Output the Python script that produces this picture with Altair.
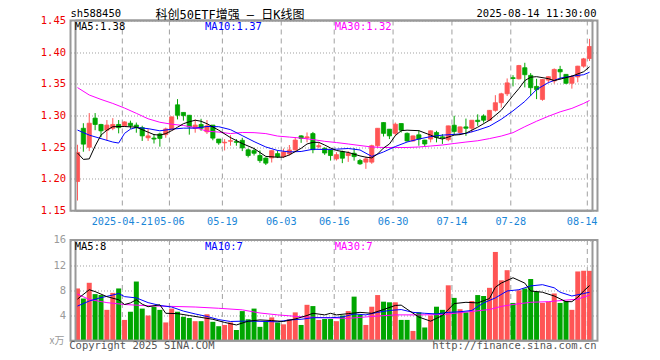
import altair as alt
import pandas as pd

# ---------------- data ----------------
opens = [1.196, 1.280, 1.250, 1.296, 1.286, 1.277, 1.280, 1.286, 1.284, 1.288,
         1.285, 1.281, 1.265, 1.2645, 1.271, 1.270, 1.2775, 1.317, 1.305, 1.3005,
         1.280, 1.286, 1.2744, 1.285, 1.263, 1.257, 1.2595, 1.259, 1.261, 1.246,
         1.2447, 1.237, 1.233, 1.2333, 1.240, 1.2355, 1.2395, 1.246, 1.268, 1.2648,
         1.2716, 1.251, 1.2484, 1.2458, 1.2317, 1.2431, 1.237, 1.2406, 1.2291, 1.2266,
         1.2266, 1.2525, 1.289, 1.2786, 1.272, 1.2875, 1.272, 1.260, 1.2697, 1.2614,
         1.263, 1.2734, 1.2665, 1.262, 1.2848, 1.2734, 1.2822, 1.280, 1.2927, 1.2994,
         1.2927, 1.3083, 1.3203, 1.3344, 1.3597, 1.358, 1.3755, 1.3635, 1.346, 1.3255,
         1.356, 1.3546, 1.3728, 1.365, 1.351, 1.361, 1.378, 1.390]
highs = [1.254, 1.288, 1.304, 1.304, 1.287, 1.293, 1.296, 1.293, 1.291, 1.292,
         1.289, 1.284, 1.279, 1.271, 1.273, 1.281, 1.2985, 1.326, 1.305, 1.301,
         1.294, 1.295, 1.293, 1.285, 1.263, 1.263, 1.269, 1.263, 1.265, 1.248,
         1.2484, 1.245, 1.234, 1.245, 1.245, 1.248, 1.2536, 1.2656, 1.269, 1.2734,
         1.2742, 1.2578, 1.250, 1.2465, 1.2422, 1.2447, 1.244, 1.2489, 1.2317, 1.2353,
         1.2541, 1.2802, 1.2895, 1.2786, 1.289, 1.2875, 1.2734, 1.2685, 1.277, 1.2618,
         1.2765, 1.276, 1.2708, 1.284, 1.2997, 1.2828, 1.2953, 1.2927, 1.302, 1.302,
         1.3088, 1.3322, 1.336, 1.3586, 1.3637, 1.380, 1.3833, 1.367, 1.358, 1.3575,
         1.362, 1.3744, 1.3785, 1.3655, 1.364, 1.3785, 1.391, 1.421]
lows = [1.166, 1.243, 1.244, 1.277, 1.266, 1.261, 1.277, 1.272, 1.282, 1.279,
        1.273, 1.260, 1.260, 1.256, 1.251, 1.265, 1.2775, 1.294, 1.292, 1.270,
        1.273, 1.276, 1.271, 1.261, 1.254, 1.245, 1.2525, 1.2525, 1.244, 1.234,
        1.237, 1.2255, 1.222, 1.226, 1.233, 1.233, 1.237, 1.2447, 1.257, 1.2578,
        1.2406, 1.2484, 1.238, 1.229, 1.2291, 1.225, 1.227, 1.229, 1.2223, 1.216,
        1.2239, 1.249, 1.267, 1.263, 1.268, 1.2734, 1.259, 1.259, 1.2525, 1.251,
        1.2578, 1.2578, 1.2553, 1.2595, 1.2697, 1.2692, 1.268, 1.2734, 1.2838, 1.289,
        1.2916, 1.3062, 1.3125, 1.3309, 1.346, 1.357, 1.3445, 1.331, 1.326, 1.3234,
        1.352, 1.3505, 1.357, 1.3495, 1.3425, 1.3525, 1.3755, 1.386]
closes = [1.242, 1.255, 1.288, 1.286, 1.276, 1.285, 1.286, 1.281, 1.290, 1.284,
          1.281, 1.268, 1.268, 1.263, 1.264, 1.279, 1.298, 1.3005, 1.300, 1.282,
          1.285, 1.280, 1.2838, 1.2645, 1.257, 1.258, 1.2605, 1.2578, 1.249, 1.237,
          1.2406, 1.229, 1.225, 1.2447, 1.235, 1.2425, 1.2458, 1.2614, 1.264, 1.2665,
          1.2463, 1.2525, 1.241, 1.237, 1.2384, 1.2328, 1.2406, 1.2353, 1.2239, 1.2317,
          1.2525, 1.280, 1.272, 1.268, 1.2864, 1.277, 1.260, 1.268, 1.263, 1.2552,
          1.276, 1.2656, 1.2650, 1.2838, 1.275, 1.2822, 1.280, 1.2927, 1.2906, 1.2927,
          1.3083, 1.3203, 1.3344, 1.3516, 1.3586, 1.379, 1.3645, 1.344, 1.341, 1.357,
          1.3614, 1.3728, 1.369, 1.351, 1.361, 1.378, 1.3895, 1.409]
vols = [8.3, 6.7, 9.2, 7.4, 7.25, 4.9, 7.6, 8.3, 3.3, 4.6,
        9.4, 5.1, 4.0, 5.4, 4.9, 2.9, 5.1, 4.6, 3.8, 3.6,
        3.1, 3.1, 4.2, 3.0, 2.3, 2.5, 2.9, 1.7, 4.7, 3.4,
        5.1, 2.2, 3.1, 3.7, 2.9, 2.6, 3.4, 4.5, 2.5, 5.7,
        5.5, 3.3, 3.45, 3.45, 3.1, 4.0, 4.7, 7.0, 4.1, 2.5,
        5.4, 7.25, 6.2, 6.1, 6.1, 3.3, 3.3, 1.55, 4.5, 2.1,
        4.0, 5.4, 4.9, 8.8, 6.8, 5.0, 4.5, 6.3, 7.25, 7.1,
        8.4, 14.1, 9.6, 11.2, 6.0, 8.0, 8.3, 9.8, 7.8, 6.0,
        6.2, 7.5, 6.0, 6.3, 4.9, 11.0, 11.1, 11.1]

# moving-average lines (candle index, value)
ma5_i = [0, 1, 2, 3, 4, 5, 6, 8, 10, 12, 13, 14, 15, 16, 17, 18, 19, 20, 21, 22,
         24, 26, 28, 30, 32, 34, 35, 36, 38, 39, 40, 41, 42, 43, 44, 46, 48, 49, 50, 51,
         52, 53, 54, 55, 56, 58, 60, 61, 62, 63, 64, 65, 66, 68, 70, 72, 74, 75, 76, 77,
         78, 80, 81, 82, 84, 86, 87]
ma5_v = [1.2411, 1.2309, 1.2317, 1.252, 1.2692, 1.277, 1.2825, 1.2828, 1.2817, 1.2739,
         1.270, 1.2692, 1.2716, 1.2762, 1.2817, 1.2872, 1.2903, 1.2927, 1.2911, 1.2872,
         1.277, 1.2653, 1.2559, 1.2481, 1.2356, 1.2344, 1.2344, 1.238, 1.2484, 1.2552,
         1.2578, 1.2578, 1.2536, 1.2489, 1.245, 1.2419, 1.2364, 1.2344, 1.2333, 1.2395,
         1.2489, 1.2552, 1.2684, 1.2762, 1.277, 1.2762, 1.2692, 1.2653, 1.263, 1.2661,
         1.2692, 1.270, 1.2723, 1.2817, 1.2927, 1.3083, 1.3317, 1.3427, 1.3552, 1.3606,
         1.3614, 1.3583, 1.3552, 1.3575, 1.3622, 1.3692, 1.377]
ma10_i = [0, 2, 4, 6, 7, 8, 9, 10, 12, 14, 16, 18, 20, 22, 24, 26, 28, 30, 32, 34,
          36, 38, 40, 42, 44, 46, 48, 50, 52, 54, 56, 58, 60, 62, 64, 66, 68, 70, 72, 74,
          76, 78, 80, 82, 84, 86, 87]
ma10_v = [1.2772, 1.2692, 1.2637, 1.2583, 1.2567, 1.2720, 1.2786, 1.2813, 1.2794, 1.276,
          1.2786, 1.2802, 1.2802, 1.2828, 1.2825, 1.2778, 1.2684, 1.259, 1.2505, 1.245,
          1.2427, 1.2434, 1.2469, 1.2466, 1.247, 1.2481, 1.2458, 1.2356, 1.2427, 1.2512,
          1.2583, 1.263, 1.2669, 1.2692, 1.2703, 1.2719, 1.277, 1.2833, 1.2942, 1.3075,
          1.3223, 1.3411, 1.352, 1.3591, 1.3622, 1.3645, 1.3684]
ma30_i = [0, 2, 4, 6, 8, 10, 12, 14, 16, 18, 20, 22, 24, 26, 28, 30, 32, 34, 36, 38,
          40, 42, 44, 46, 48, 50, 52, 54, 56, 58, 60, 62, 64, 66, 68, 70, 72, 74, 76, 78,
          80, 82, 84, 86, 87]
ma30_v = [1.3442, 1.3325, 1.3255, 1.3192, 1.3119, 1.3036, 1.295, 1.2895, 1.2864, 1.2844,
          1.281, 1.2755, 1.274, 1.2716, 1.2734, 1.2731, 1.2716, 1.2677, 1.2661, 1.2645,
          1.2622, 1.2594, 1.2575, 1.2552, 1.2528, 1.2505, 1.2497, 1.2497, 1.2497, 1.2505,
          1.252, 1.2536, 1.256, 1.2583, 1.2603, 1.2637, 1.2677, 1.2731, 1.2825, 1.2911,
          1.2989, 1.3059, 1.3114, 1.3192, 1.3239]
vma5_i = [0, 2, 3, 5, 7, 8, 9, 10, 11, 12, 14, 15, 17, 19, 21, 23, 25, 27, 29, 31,
          33, 35, 37, 39, 40, 42, 43, 44, 46, 48, 50, 52, 54, 55, 56, 58, 60, 62, 64, 66,
          68, 70, 71, 72, 74, 76, 77, 79, 81, 83, 84, 85, 86, 87]
vma5_v = [6.6, 8.1, 7.8, 7.0, 6.5, 5.75, 6.0, 6.5, 5.8, 5.4, 5.7, 4.35, 4.3, 4.0, 3.7,
          3.4, 2.9, 2.5, 3.1, 3.3, 3.2, 3.05, 3.45, 4.0, 4.35, 4.1, 4.35, 4.1, 4.3, 4.5,
          4.35, 4.95, 5.6, 5.65, 5.0, 3.75, 3.1, 4.0, 5.9, 6.1, 6.0, 6.7, 8.5, 9.15, 10.0,
          9.15, 7.9, 7.7, 7.1, 6.2, 6.2, 6.9, 7.9, 8.75]
vma10_i = [0, 2, 4, 6, 7, 8, 10, 12, 14, 16, 18, 20, 22, 24, 26, 28, 30, 32, 34, 36,
           38, 40, 43, 45, 47, 49, 51, 53, 55, 57, 59, 61, 63, 65, 67, 69, 71, 73, 75, 77,
           79, 81, 82, 84, 86, 87]
vma10_v = [5.5, 6.3, 6.85, 7.25, 7.5, 7.0, 6.8, 6.05, 5.6, 5.35, 4.7, 4.25, 3.85, 3.35,
           3.05, 3.1, 3.1, 3.05, 3.0, 3.3, 3.4, 3.65, 3.65, 3.75, 4.25, 4.1, 4.5, 4.8,
           4.95, 4.5, 4.35, 4.25, 4.5, 4.6, 4.8, 6.0, 6.8, 7.9, 8.1, 8.7, 8.9, 8.4, 7.7,
           7.1, 7.5, 7.7]
vma30_i = [0, 2, 5, 8, 12, 16, 20, 24, 28, 31, 34, 38, 42, 46, 50, 54, 58, 62, 66, 70,
           72, 74, 77, 80, 83, 85, 87]
vma30_v = [7.4, 6.55, 6.05, 5.75, 5.55, 5.45, 5.35, 5.15, 4.9, 4.4, 4.1, 3.8, 3.65, 3.55,
           3.85, 4.1, 4.1, 4.15, 4.55, 4.95, 5.45, 5.75, 6.1, 6.2, 6.45, 6.6, 7.25]

tick_idx = [8, 16, 25, 35, 44, 54, 64, 74, 87]
tick_labels = ["2025-04-21", "05-06", "05-19", "06-03", "06-16", "06-30", "07-14", "07-28", "08-14"]
price_ticks = [1.15, 1.20, 1.25, 1.30, 1.35, 1.40, 1.45]
vol_ticks = [4, 8, 12, 16]

# ---------------- chart ----------------
RED = "#ff5555"
GREEN = "#00a600"
MONO = "DejaVu Sans Mono"
TITLE_FONT = "DejaVu Sans Mono, Noto Sans CJK SC"
CJK = "Noto Sans CJK SC"
GRID = "#a0a0a0"
FRAME = "#999999"
X_LO, X_HI = -0.333, 87.5
W = 527                      # plot width in px
P_TOP, P_BOT = 0, 190.2      # price panel, px from plot top
V_TOP, V_BOT = 219.5, 320.2  # volume panel, px from plot top

candles = pd.DataFrame({"i": list(range(len(opens))), "open": opens, "high": highs,
                        "low": lows, "close": closes, "vol": vols})
candles["dir"] = ["up" if c >= o else "down" for o, c in zip(opens, closes)]
ticks = pd.DataFrame({"i": tick_idx, "label": tick_labels})

xs = alt.Scale(domain=[X_LO, X_HI], nice=False, zero=False)
ps = alt.Scale(domain=[1.15, 1.45], range=[P_BOT, P_TOP], nice=False, zero=False)
vs = alt.Scale(domain=[0, 16], range=[V_BOT, V_TOP], nice=False, zero=False)
dir_scale = alt.Scale(domain=["up", "down"], range=[RED, GREEN])
X = alt.X("i:Q", scale=xs, axis=None)

base = alt.Chart(candles)

price_axis = alt.Axis(values=price_ticks, format=".2f", orient="left", labelColor="#ee0000",
                      labelFont=MONO, labelFontSize=10.5, ticks=False, domain=False, grid=True,
                      gridColor=GRID, gridDash=[1, 2], gridWidth=1, labelPadding=5, title=None)
vol_axis = alt.Axis(values=vol_ticks, orient="left", labelColor="#9a9a9a", labelFont=MONO,
                    labelFontSize=10.5, ticks=False, domain=False, grid=True, gridColor=GRID,
                    gridDash=[1, 2], gridWidth=1, labelPadding=5, title=None)


def ma_line(i_list, v_list, color, scale, axis):
    d = pd.DataFrame({"i": i_list, "v": v_list})
    return alt.Chart(d).mark_line(color=color, strokeWidth=1).encode(
        x=X, y=alt.Y("v:Q", scale=scale, axis=axis))


def vgrid(scale, axis, top, bottom):
    return alt.Chart(ticks).transform_calculate(g="datum.i - 0.38").mark_rule(
        color=GRID, strokeDash=[5, 4], strokeWidth=1).encode(
        x=alt.X("g:Q", scale=xs, axis=None),
        y=alt.YDatum(top, scale=scale, axis=axis), y2=alt.Y2Datum(bottom))


def edges_v(scale, axis, top, bottom):
    # left/right panel edges at the ends of the x domain
    return alt.Chart(ticks).transform_aggregate(n="count()").transform_calculate(
        e0=str(X_LO), e1=str(X_HI)).transform_fold(["e0", "e1"]).mark_rule(
        color=FRAME, strokeWidth=2).encode(
        x=alt.X("value:Q", scale=xs, axis=None),
        y=alt.YDatum(top, scale=scale, axis=axis), y2=alt.Y2Datum(bottom))


def edges_h(scale, axis, top, bottom):
    # top/bottom panel edges at the ends of the panel's y domain
    return alt.Chart(ticks).transform_aggregate(n="count()").transform_calculate(
        e0=str(top), e1=str(bottom)).transform_fold(["e0", "e1"]).mark_rule(
        color=FRAME, strokeWidth=2).encode(
        y=alt.Y("value:Q", scale=scale, axis=axis),
        x=alt.XDatum(X_LO, scale=xs, axis=None), x2=alt.X2Datum(X_HI))


def box(top, bottom):
    # panel outline (decoration, in pixels of the plot area)
    d = alt.Data(values=[{"k": 1}])
    return alt.Chart(d).mark_rect(filled=False, stroke=FRAME, strokeWidth=2).encode(
        x=alt.value(0), x2=alt.value(W), y=alt.value(top), y2=alt.value(bottom))


wick = base.mark_rule(strokeWidth=1).encode(
    x=X, y=alt.Y("low:Q", scale=ps, axis=price_axis), y2="high:Q",
    color=alt.Color("dir:N", scale=dir_scale, legend=None))
body = base.mark_bar(size=4.2, strokeWidth=0.8).encode(
    x=X, y=alt.Y("open:Q", scale=ps, axis=price_axis), y2="close:Q",
    fill=alt.Fill("dir:N", scale=dir_scale, legend=None),
    stroke=alt.Stroke("dir:N", scale=dir_scale, legend=None))

price = alt.layer(
    vgrid(ps, price_axis, 1.45, 1.15), wick, body,
    ma_line(ma30_i, ma30_v, "#ff00ff", ps, price_axis),
    ma_line(ma10_i, ma10_v, "#0000ff", ps, price_axis),
    ma_line(ma5_i, ma5_v, "#000000", ps, price_axis),
    edges_v(ps, price_axis, 1.45, 1.15),
    edges_h(ps, price_axis, 1.45, 1.15),
)

vbars = base.mark_bar(size=5).encode(
    x=X, y=alt.Y("vol:Q", scale=vs, axis=vol_axis),
    color=alt.Color("dir:N", scale=dir_scale, legend=None))

volume = alt.layer(
    vgrid(vs, vol_axis, 16, 0), vbars,
    ma_line(vma30_i, vma30_v, "#ff00ff", vs, vol_axis),
    ma_line(vma10_i, vma10_v, "#0000ff", vs, vol_axis),
    ma_line(vma5_i, vma5_v, "#000000", vs, vol_axis),
    edges_v(vs, vol_axis, 16, 0),
    edges_h(vs, vol_axis, 16, 0),
)


def txt(s, x, y, color="#000000", align="left", size=10.5, font=MONO):
    return alt.Chart(alt.Data(values=[{"t": s}])).mark_text(
        align=align, baseline="middle", font=font, fontSize=size, color=color).encode(
        x=alt.value(x), y=alt.value(y), text="t:N")


DATE_BLUE = "#1a86d8"
date_labels = alt.Chart(ticks).transform_filter("datum.i < 87").transform_calculate(
    g="datum.i - 0.38").mark_text(
    align="center", baseline="middle", font=MONO, fontSize=10.2, color=DATE_BLUE).encode(
    x=alt.X("g:Q", scale=xs, axis=None), y=alt.value(201.2), text="label:N")
last_label = alt.Chart(ticks).transform_filter("datum.i >= 87").mark_text(
    align="right", baseline="middle", font=MONO, fontSize=10.2, color=DATE_BLUE).encode(
    x=alt.value(W), y=alt.value(201.2), text="label:N")

texts = [
    txt("sh588450", 0, -6.5),
    txt("科创50ETF增强 — 日K线图", 159.5, -5.5, size=12, font=TITLE_FONT, align="center"),
    txt("2025-08-14 11:30:00", 526, -6.5, align="right"),
    txt("MA5:1.38", 4.2, 6.5),
    txt("MA10:1.37", 134.5, 6.5, color="#0000ff"),
    txt("MA30:1.32", 264.2, 6.5, color="#ff00ff"),
    txt("MA5:8", 4.2, 226.2),
    txt("MA10:7", 134.5, 226.2, color="#0000ff"),
    txt("MA30:7", 264.2, 226.2, color="#ff00ff"),
    txt("Copyright 2025 SINA.COM", -1.2, 325.5, color="#555555"),
    txt("http://finance.sina.com.cn", 526, 325.5, color="#555555", align="right"),
    txt("x万", -6, 320.5, color="#9a9a9a", align="right", size=10, font=CJK),
    date_labels,
    last_label,
]

chart = alt.layer(price, volume, box(P_TOP, P_BOT), box(V_TOP, V_BOT), *texts).resolve_scale(
    y="independent").properties(
    width=W, height=V_BOT,
    padding={"left": 62.5, "top": 12.5, "right": 20, "bottom": 14},
    autosize=alt.AutoSizeParams(type="none"),
).configure_view(stroke=None)

chart.save("out.html", embed_options={"renderer": "svg", "actions": False})
